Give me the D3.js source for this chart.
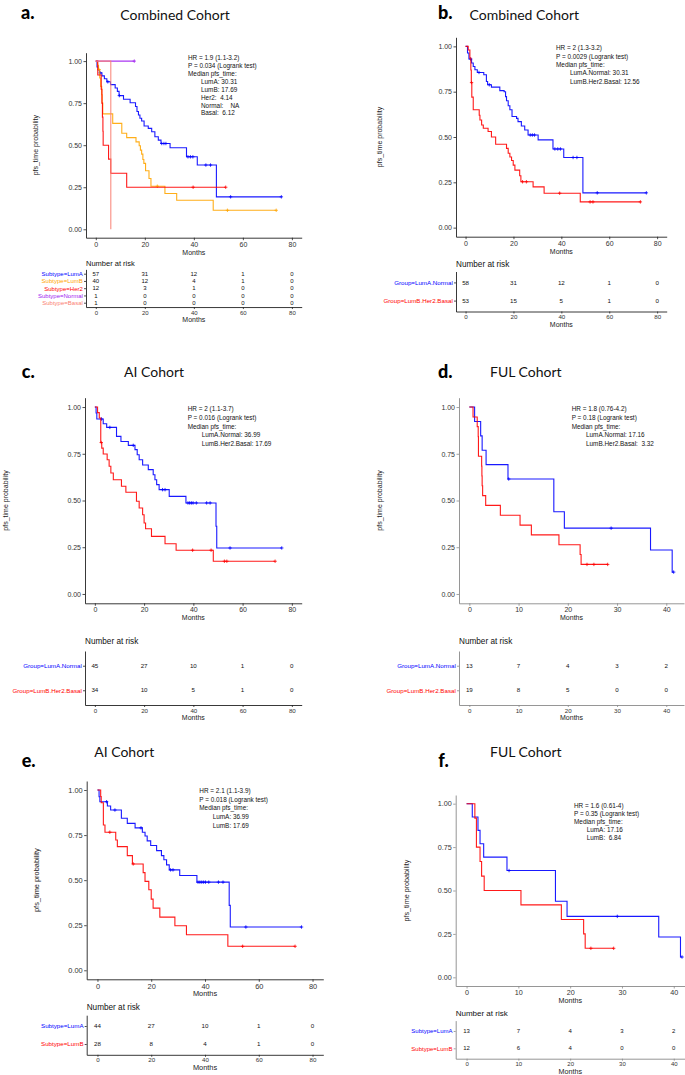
<!DOCTYPE html>
<html>
<head>
<meta charset="utf-8">
<script src="https://d3js.org/d3.v7.min.js"></script>
<style>
  body { margin: 0; background: #fff; }
</style>
</head>
<body>
<div id="my_dataviz"></div>
<script>
// ---------- shared ticks ----------
var monthTicks80 = [0, 20, 40, 60, 80];
var monthTicks40 = [0, 10, 20, 30, 40];
var probTicks = [0, 0.25, 0.5, 0.75, 1];

// ---------- panel a : combined cohort, 5 subtypes ----------
var aStrata = ["Subtype=LumA", "Subtype=LumB", "Subtype=Her2", "Subtype=Normal", "Subtype=Basal"];
var aColors = ["#0000ff", "#ffa500", "#ff0000", "#a020f0", "#fa8072"];
var aLumA = [[0,1],[0.5,0.965],[1,0.947],[1.5,0.93],[2.5,0.912],[3.5,0.895],[4.5,0.877],[6,0.86],[7.9,0.84],[8.8,0.82],[9.5,0.795],[11.3,0.773],[14,0.752],[16.2,0.73],[16.8,0.70],[17.4,0.68],[18,0.66],[18.7,0.644],[19.7,0.614],[21.4,0.60],[22.8,0.58],[24.1,0.55],[25.5,0.53],[26.6,0.51],[30.3,0.485],[37,0.431],[41.4,0.382],[49.2,0.193],[75.7,0.193]];
var aLumACensor = [1.8, 4.9, 9.6, 26.9, 27.8, 28.6, 37.6, 38.6, 39.6, 44.9, 46.8, 55, 75.7];
var aLumB = [[0,1],[0.7,0.975],[1.1,0.95],[1.6,0.90],[2,0.85],[2.4,0.80],[2.6,0.75],[2.85,0.686],[6.9,0.63],[10.6,0.571],[12.6,0.545],[16.4,0.52],[17.7,0.497],[18.2,0.471],[18.7,0.447],[19.2,0.415],[19.6,0.392],[20.3,0.348],[21.7,0.302],[22.5,0.256],[28.2,0.213],[33,0.173],[47.9,0.113],[73.6,0.113]];
var aLumBCensor = [1.3, 25.1, 53.7, 73.6];
var aHer2 = [[0,1],[0.8,0.917],[2.2,0.833],[2.5,0.75],[2.7,0.667],[2.9,0.583],[3.0,0.5],[5.2,0.417],[6.1,0.333],[12.6,0.25],[53,0.25]];
var aHer2Censor = [39.7, 53];
var aNormal = [[0,1],[15.7,1]];
var aNormalCensor = [15.7];
var aBasal = [[0,1],[6.12,0]];
var aBasalCensor = [];
var aRisk = [[57,31,12,1,0],[40,12,4,1,0],[12,3,1,0,0],[1,0,0,0,0],[1,0,0,0,0]];
var aStatsHead = ["HR = 1.9 (1.1-3.2)", "P = 0.034 (Logrank test)", "Median pfs_time:"];
var aStatsMedian = ["LumA: 30.31", "LumB: 17.69", "Her2:  4.14", "Normal:    NA", "Basal:  6.12"];

// ---------- panel b : combined cohort, 2 groups ----------
var bStrata = ["Group=LumA.Normal", "Group=LumB.Her2.Basal"];
var bColors = ["#0000ff", "#ff0000"];
var bLumANormal = [[0,1],[0.8,0.963],[1.4,0.93],[2.5,0.908],[3.2,0.889],[3.9,0.871],[4.9,0.856],[7.6,0.843],[8.7,0.806],[9.2,0.788],[10.8,0.775],[14.3,0.756],[16.1,0.75],[16.7,0.723],[17.1,0.70],[17.8,0.672],[18.5,0.65],[19.4,0.613],[21.3,0.603],[21.9,0.585],[23.3,0.561],[24.7,0.539],[26.1,0.511],[30.3,0.484],[36.5,0.434],[41,0.387],[49,0.192],[75.5,0.192]];
var bLumANormalCensor = [2.1, 5.6, 9.9, 27, 27.9, 28.8, 37.3, 38.5, 39.6, 44.9, 46.5, 55, 75.5];
var bLumBHer2Basal = [[0,1],[1.1,0.98],[1.8,0.935],[2.2,0.87],[2.4,0.80],[2.6,0.72],[3.2,0.65],[5.7,0.62],[6,0.594],[6.7,0.566],[7.4,0.548],[9.4,0.53],[10.8,0.50],[12.56,0.46],[17.1,0.437],[17.8,0.41],[18.5,0.39],[19.2,0.37],[19.9,0.345],[20.6,0.317],[22.6,0.286],[23.1,0.253],[28.2,0.225],[32.8,0.19],[47.9,0.142],[73,0.142]];
var bLumBHer2BasalCensor = [2.5, 23.8, 25.4, 39.3, 52, 53.2, 73];
var bRisk = [[58,31,12,1,0],[53,15,5,1,0]];
var bStatsHead = ["HR = 2 (1.3-3.2)", "P = 0.0029 (Logrank test)", "Median pfs_time:"];
var bStatsMedian = ["LumA.Normal: 30.31", "LumB.Her2.Basal: 12.56"];

// ---------- panel c : AI cohort, 2 groups ----------
var cStrata = ["Group=LumA.Normal", "Group=LumB.Her2.Basal"];
var cColors = ["#0000ff", "#ff0000"];
var cLumANormal = [[0,1],[0.5,0.968],[0.8,0.936],[3.4,0.911],[4.8,0.891],[8.8,0.843],[10.6,0.816],[13.6,0.795],[16.3,0.772],[17.2,0.745],[18,0.718],[19.4,0.69],[21.7,0.665],[23.7,0.638],[24.4,0.611],[25.1,0.585],[26.1,0.558],[30.2,0.522],[36.99,0.487],[49.2,0.362],[49.5,0.246],[75.9,0.246]];
var cLumANormalCensor = [2.7, 6.1, 15.6, 27.5, 28.5, 37.8, 38.5, 39.2, 39.9, 41.2, 45.4, 46.8, 54.9, 75.9];
var cLumBHer2Basal = [[0,1],[1.1,0.97],[1.8,0.941],[2.4,0.81],[2.8,0.78],[3.4,0.749],[5,0.718],[5.8,0.683],[6.5,0.647],[7.5,0.611],[10.8,0.576],[12.6,0.544],[16.9,0.496],[18,0.46],[19.4,0.424],[20,0.38],[20.6,0.349],[23,0.308],[28.5,0.269],[33,0.234],[48.1,0.175],[73.2,0.175]];
var cLumBHer2BasalCensor = [2.6, 39.7, 47.2, 52.6, 53.6, 73.2];
var cRisk = [[45,27,10,1,0],[34,10,5,1,0]];
var cStatsHead = ["HR = 2 (1.1-3.7)", "P = 0.016 (Logrank test)", "Median pfs_time:"];
var cStatsMedian = ["LumA.Normal: 36.99", "LumB.Her2.Basal: 17.69"];

// ---------- panel d : FUL cohort, 2 groups ----------
var dStrata = ["Group=LumA.Normal", "Group=LumB.Her2.Basal"];
var dColors = ["#0000ff", "#ff0000"];
var dLumANormal = [[0,1],[1.07,0.923],[2.3,0.846],[2.6,0.769],[3.4,0.692],[7.85,0.615],[17.16,0.44],[19.3,0.352],[36.8,0.235],[41.2,0.117],[41.5,0.117]];
var dLumANormalCensor = [8.0, 28.8, 41.5];
var dLumBHer2Basal = [[0,1],[0.75,0.947],[1.6,0.895],[1.8,0.842],[1.85,0.737],[2.5,0.684],[2.55,0.632],[2.6,0.579],[2.7,0.526],[3.32,0.474],[6.3,0.421],[10.3,0.368],[12.6,0.316],[18.2,0.263],[22.5,0.211],[22.7,0.158],[28.1,0.158]];
var dLumBHer2BasalCensor = [23.9, 25.3, 28.1];
var dRisk = [[13,7,4,3,2],[19,8,5,0,0]];
var dStatsHead = ["HR = 1.8 (0.76-4.2)", "P = 0.18 (Logrank test)", "Median pfs_time:"];
var dStatsMedian = ["LumA.Normal: 17.16", "LumB.Her2.Basal:  3.32"];

// ---------- panel e : AI cohort, LumA vs LumB ----------
var eStrata = ["Subtype=LumA", "Subtype=LumB"];
var eColors = ["#0000ff", "#ff0000"];
var eLumA = [[0,1],[0.6,0.963],[0.9,0.935],[3.7,0.911],[4.9,0.889],[8.9,0.843],[11.1,0.815],[14,0.79],[16.7,0.766],[17.7,0.745],[18.5,0.718],[19.8,0.692],[22,0.664],[23.8,0.636],[24.7,0.613],[25.7,0.585],[26.7,0.557],[30.6,0.526],[36.99,0.489],[49,0.36],[49.4,0.24],[75.9,0.24]];
var eLumACensor = [3.4, 6.5, 16.2, 27.2, 28.1, 37.4, 38.1, 38.8, 39.5, 40.2, 41.4, 45, 46.7, 55.2, 75.9];
var eLumB = [[0,1],[1.2,0.964],[1.4,0.929],[2.2,0.806],[2.8,0.766],[6.8,0.723],[7.4,0.686],[11.1,0.636],[13,0.59],[17,0.542],[17.69,0.493],[19.1,0.447],[20,0.395],[20.7,0.345],[23.2,0.295],[28.8,0.247],[33.1,0.197],[48.5,0.133],[73.5,0.133]];
var eLumBCensor = [4.6, 13.3, 54, 73.5];
var eRisk = [[44,27,10,1,0],[28,8,4,1,0]];
var eStatsHead = ["HR = 2.1 (1.1-3.9)", "P = 0.018 (Logrank test)", "Median pfs_time:"];
var eStatsMedian = ["LumA: 36.99", "LumB: 17.69"];

// ---------- panel f : FUL cohort, LumA vs LumB ----------
var fStrata = ["Subtype=LumA", "Subtype=LumB"];
var fColors = ["#0000ff", "#ff0000"];
var fLumA = [[0,1],[1.1,0.923],[2.2,0.846],[2.6,0.769],[3.3,0.692],[7.8,0.615],[17.16,0.438],[19.4,0.351],[37.1,0.232],[41.3,0.117],[41.6,0.117]];
var fLumACensor = [8.2, 29.1, 41.6];
var fLumB = [[0,1],[1.6,0.917],[1.9,0.75],[2.6,0.667],[2.9,0.583],[3.4,0.5],[10.5,0.417],[18.3,0.333],[22.6,0.25],[22.9,0.167],[28.4,0.167]];
var fLumBCensor = [24, 28.4];
var fRisk = [[13,7,4,3,2],[12,6,4,0,0]];
var fStatsHead = ["HR = 1.6 (0.61-4)", "P = 0.35 (Logrank test)", "Median pfs_time:"];
var fStatsMedian = ["LumA: 17.16", "LumB:  6.84"];

// ---------- layout of the six panels ----------
var panels = [
  { letter: "a.", lx: 21, ly: 19, title: "Combined Cohort", tx: 175, ty: 20,
    left: 86, right: 301.7, top: 52.7, bottom: 237.7, xDomain: [-4, 84], ticks: monthTicks80,
    ylabX: 37.5, statX: 188, statY: 59.8, statStep: 7.95, statIndent: 201,
    riskY: 266, riskFs: 7.5, tableTop: 269.35, tableBottom: 307.05, rowFs: 6, fs: 7, axisColor: "#222",
    strata: aStrata, colors: aColors, risk: aRisk,
    curves: [aLumA, aLumB, aHer2, aNormal, aBasal],
    censors: [aLumACensor, aLumBCensor, aHer2Censor, aNormalCensor, aBasalCensor],
    statsHead: aStatsHead, statsMedian: aStatsMedian },
  { letter: "b.", lx: 438, ly: 19, title: "Combined Cohort", tx: 524.3, ty: 20,
    left: 456, right: 666.7, top: 37.3, bottom: 236.7, xDomain: [-4, 84], ticks: monthTicks80,
    ylabX: 381.5, statX: 556, statY: 50.3, statStep: 8.3, statIndent: 570,
    riskY: 267, riskFs: 8.2, tableTop: 271.5, tableBottom: 311.5, rowFs: 6.2, fs: 7, axisColor: "#222",
    strata: bStrata, colors: bColors, risk: bRisk,
    curves: [bLumANormal, bLumBHer2Basal],
    censors: [bLumANormalCensor, bLumBHer2BasalCensor],
    statsHead: bStatsHead, statsMedian: bStatsMedian },
  { letter: "c.", lx: 21.7, ly: 378.3, title: "AI Cohort", tx: 154, ty: 376.7,
    left: 85, right: 301.7, top: 397.7, bottom: 603.3, xDomain: [-4, 84], ticks: monthTicks80,
    ylabX: 7.5, statX: 187.7, statY: 411.3, statStep: 8.7, statIndent: 201.7,
    riskY: 644, riskFs: 8.2, tableTop: 651, tableBottom: 705, rowFs: 6.2, fs: 7, axisColor: "#222",
    strata: cStrata, colors: cColors, risk: cRisk,
    curves: [cLumANormal, cLumBHer2Basal],
    censors: [cLumANormalCensor, cLumBHer2BasalCensor],
    statsHead: cStatsHead, statsMedian: cStatsMedian },
  { letter: "d.", lx: 438, ly: 378.3, title: "FUL Cohort", tx: 525.8, ty: 376.7,
    left: 459, right: 684, top: 397.7, bottom: 603.3, xDomain: [-2.1, 43.6], ticks: monthTicks40,
    ylabX: 382, statX: 571.7, statY: 411.3, statStep: 8.7, statIndent: 586,
    riskY: 644, riskFs: 8.2, tableTop: 651, tableBottom: 705, rowFs: 6.2, fs: 7, axisColor: "#8a8a8a",
    strata: dStrata, colors: dColors, risk: dRisk,
    curves: [dLumANormal, dLumBHer2Basal],
    censors: [dLumANormalCensor, dLumBHer2BasalCensor],
    statsHead: dStatsHead, statsMedian: dStatsMedian },
  { letter: "e.", lx: 21.7, ly: 766.7, title: "AI Cohort", tx: 124.2, ty: 756.7,
    left: 86.7, right: 323.3, top: 781, bottom: 979.3, xDomain: [-4, 84], ticks: monthTicks80,
    ylabX: 39.2, statX: 199.3, statY: 793, statStep: 8.7, statIndent: 212.7,
    riskY: 1010, riskFs: 8.2, tableTop: 1015.2, tableBottom: 1054.8, rowFs: 6.2, fs: 7.4, axisColor: "#222",
    strata: eStrata, colors: eColors, risk: eRisk,
    curves: [eLumA, eLumB],
    censors: [eLumACensor, eLumBCensor],
    statsHead: eStatsHead, statsMedian: eStatsMedian },
  { letter: "f.", lx: 438.3, ly: 766.7, title: "FUL Cohort", tx: 525.8, ty: 756.7,
    left: 455.7, right: 692.4, top: 795, bottom: 986, xDomain: [-2.1, 43.6], ticks: monthTicks40,
    ylabX: 409, statX: 574, statY: 808, statStep: 8, statIndent: 586.7,
    riskY: 1016.3, riskFs: 8, tableTop: 1020.6, tableBottom: 1058.7, rowFs: 6, fs: 7.2, axisColor: "#8a8a8a",
    strata: fStrata, colors: fColors, risk: fRisk,
    curves: [fLumA, fLumB],
    censors: [fLumACensor, fLumBCensor],
    statsHead: fStatsHead, statsMedian: fStatsMedian }
];

var sans = "'Liberation Sans', Arial, Helvetica, sans-serif";
var calib = "Lato, 'Open Sans', sans-serif";

var svg = d3.select("#my_dataviz")
  .append("svg")
    .attr("width", 685)
    .attr("height", 1075)
    .style("display", "block")
    .style("background", "#fff");

// survival value of a step curve at time t (for the censor marks)
function survAt(curve, t) {
  var s = curve[0][1];
  curve.forEach(function(p) { if (p[0] <= t) s = p[1]; });
  return s;
}

function styleAxis(sel, p, fs) {
  sel.attr("color", p.axisColor)
     .attr("font-family", sans)
     .attr("font-size", fs);
  sel.select(".domain").attr("stroke-width", 0.9);
  sel.selectAll(".tick line").attr("stroke-width", 0.8);
  sel.selectAll(".tick text").attr("fill", "#333");
}

function drawPanel(p) {
  var g = svg.append("g");

  // panel letter and title
  g.append("text")
    .attr("x", p.lx).attr("y", p.ly)
    .text(p.letter)
    .style("font-family", calib).style("font-weight", 900)
    .attr("font-size", "18px").attr("fill", "#000");
  g.append("text")
    .attr("x", p.tx).attr("y", p.ty)
    .attr("text-anchor", "middle")
    .text(p.title)
    .style("font-family", calib)
    .attr("font-size", "14px").attr("fill", "#111");

  var x = d3.scaleLinear().domain(p.xDomain).range([p.left, p.right]);
  var y = d3.scaleLinear().domain([-0.05, 1.05]).range([p.bottom, p.top]);
  var midX = (p.left + Math.min(p.right, 685)) / 2;

  // axes of the survival plot
  var xAx = g.append("g")
    .attr("transform", "translate(0," + p.bottom + ")")
    .call(d3.axisBottom(x).tickValues(p.ticks).tickSize(2.5).tickSizeOuter(0).tickPadding(1.5));
  styleAxis(xAx, p, p.fs);
  var yAx = g.append("g")
    .attr("transform", "translate(" + p.left + ",0)")
    .call(d3.axisLeft(y).tickValues(probTicks).tickFormat(d3.format(".2f")).tickSize(2.5).tickSizeOuter(0).tickPadding(1.5));
  styleAxis(yAx, p, p.fs);

  g.append("text")
    .attr("x", midX)
    .attr("y", p.bottom + 17)
    .attr("text-anchor", "middle")
    .text("Months")
    .style("font-family", sans).attr("font-size", p.fs).attr("fill", "#222");
  g.append("text")
    .attr("transform", "translate(" + p.ylabX + "," + (p.top + p.bottom) / 2 + ") rotate(-90)")
    .attr("text-anchor", "middle")
    .text("pfs_time probability")
    .style("font-family", sans).attr("font-size", p.fs).attr("fill", "#222");

  // KM step curves
  var line = d3.line()
    .x(function(d) { return x(d[0]); })
    .y(function(d) { return y(d[1]); })
    .curve(d3.curveStepAfter);

  p.curves.forEach(function(curve, i) {
    g.append("path")
      .datum(curve)
      .attr("d", line)
      .attr("fill", "none")
      .attr("stroke", p.colors[i])
      .attr("stroke-width", 1.1)
      .attr("stroke-opacity", 0.9);

    // censor ticks (+)
    g.selectAll(null)
      .data(p.censors[i])
      .enter()
      .append("path")
        .attr("d", function(t) {
          var cx = x(t), cy = y(survAt(curve, t));
          return "M" + (cx - 1.7) + "," + cy + "h3.4M" + cx + "," + (cy - 1.7) + "v3.4";
        })
        .attr("stroke", p.colors[i])
        .attr("stroke-width", 0.8);
  });

  // stats text
  p.statsHead.forEach(function(s, i) {
    g.append("text")
      .attr("x", p.statX).attr("y", p.statY + i * p.statStep)
      .text(s)
      .style("font-family", sans).style("white-space", "pre")
      .attr("font-size", 6.4).attr("fill", "#111");
  });
  p.statsMedian.forEach(function(s, i) {
    g.append("text")
      .attr("x", p.statIndent).attr("y", p.statY + (i + 3) * p.statStep)
      .text(s)
      .style("font-family", sans).style("white-space", "pre")
      .attr("font-size", 6.4).attr("fill", "#111");
  });

  // ---- number at risk table ----
  g.append("text")
    .attr("x", p.left).attr("y", p.riskY)
    .text("Number at risk")
    .style("font-family", sans).attr("font-size", p.riskFs).attr("fill", "#111");

  var row = d3.scalePoint().domain(p.strata).range([p.tableTop, p.tableBottom]).padding(0.6);

  var tyAx = g.append("g")
    .attr("transform", "translate(" + p.left + ",0)")
    .call(d3.axisLeft(row).tickSize(2).tickSizeOuter(0).tickPadding(1.2));
  styleAxis(tyAx, p, p.rowFs);
  tyAx.selectAll(".tick text").attr("fill", function(d, i) { return p.colors[i]; });

  var txAx = g.append("g")
    .attr("transform", "translate(0," + p.tableBottom + ")")
    .call(d3.axisBottom(x).tickValues(p.ticks).tickSize(2).tickSizeOuter(0).tickPadding(1.2));
  styleAxis(txAx, p, p.rowFs);

  g.append("text")
    .attr("x", midX)
    .attr("y", p.tableBottom + 15)
    .attr("text-anchor", "middle")
    .text("Months")
    .style("font-family", sans).attr("font-size", p.fs).attr("fill", "#222");

  p.risk.forEach(function(vals, i) {
    g.selectAll(null)
      .data(vals)
      .enter()
      .append("text")
        .attr("x", function(d, j) { return x(p.ticks[j]); })
        .attr("y", row(p.strata[i]))
        .attr("dy", "0.35em")
        .attr("text-anchor", "middle")
        .text(function(d) { return d; })
        .style("font-family", sans)
        .attr("font-size", p.rowFs).attr("fill", "#111");
  });
}

panels.forEach(drawPanel);
</script>
</body>
</html>
